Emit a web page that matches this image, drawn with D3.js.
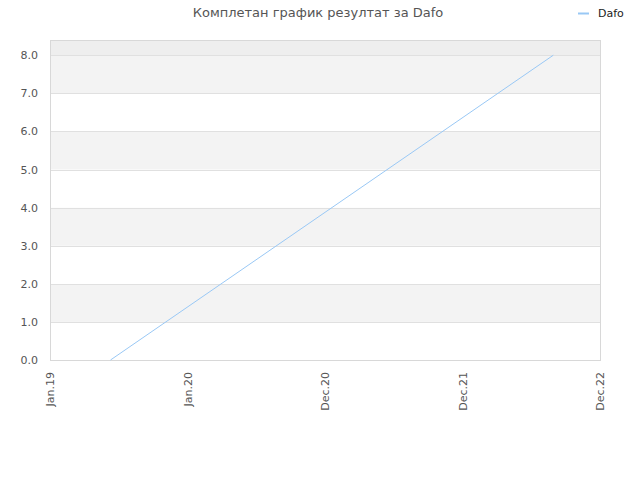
<!DOCTYPE html>
<html>
<head>
<meta charset="utf-8">
<script src="https://cdn.jsdelivr.net/npm/d3@7"></script>
<style>
  body { margin: 0; background: #fff; }
  text { font-family: "DejaVu Sans", sans-serif; }
</style>
</head>
<body>
<div id="chart"></div>
<script>
const title = "Комплетан график резултат за Dafo";
const seriesName = "Dafo";
const tickLabels = ["Jan.19", "Jan.20", "Dec.20", "Dec.21", "Dec.22"];
// x position of each point, in tick-index units
const pointX = [0.44, 3.66];
const pointY = [0, 8];
const yTicks = [0, 1, 2, 3, 4, 5, 6, 7, 8];

const width = 640, height = 480;
const margin = {top: 40, right: 40, bottom: 120, left: 50};

const svg = d3.select("#chart").append("svg")
  .attr("width", width)
  .attr("height", height);

const x = d3.scaleLinear()
  .domain([0, tickLabels.length - 1])
  .range([margin.left, width - margin.right]);

const y = d3.scaleLinear()
  .domain([0, 8.4])
  .range([height - margin.bottom, margin.top]);

// background bands
const bands = d3.range(0, 9).map(i => ({lo: i, hi: Math.min(i + 1, 8.4)}));
svg.append("g")
  .selectAll("rect")
  .data(bands)
  .join("rect")
  .attr("x", margin.left)
  .attr("width", width - margin.right - margin.left)
  .attr("y", d => y(d.hi))
  .attr("height", d => y(d.lo) - y(d.hi))
  .attr("fill", d => d.lo >= 8 ? "#eeeeee" : (d.lo % 2 === 1 ? "#f3f3f3" : "#ffffff"));

// grid lines
svg.append("g")
  .attr("stroke", "#e0e0e0")
  .selectAll("line")
  .data(yTicks)
  .join("line")
  .attr("x1", margin.left)
  .attr("x2", width - margin.right)
  .attr("y1", d => Math.round(y(d)) + 0.5)
  .attr("y2", d => Math.round(y(d)) + 0.5);

// frame
svg.append("rect")
  .attr("x", margin.left + 0.5)
  .attr("y", margin.top + 0.5)
  .attr("width", width - margin.right - margin.left)
  .attr("height", height - margin.bottom - margin.top)
  .attr("fill", "none")
  .attr("stroke", "#d8d8d8");

// y axis
const yAxis = svg.append("g")
  .attr("transform", `translate(${margin.left},0)`)
  .call(d3.axisLeft(y).tickValues(yTicks).tickFormat(d3.format(".1f")).tickSize(0).tickPadding(12));
yAxis.select(".domain").remove();
yAxis.selectAll("text").attr("fill", "#555").style("font-size", "11px");

// x axis
const xAxis = svg.append("g")
  .attr("transform", `translate(0,${height - margin.bottom})`)
  .call(d3.axisBottom(x).tickValues(d3.range(tickLabels.length)).tickFormat(i => tickLabels[i]).tickSize(0));
xAxis.select(".domain").remove();
xAxis.selectAll("text")
  .attr("fill", "#555")
  .style("font-size", "11px")
  .attr("text-anchor", "end")
  .attr("transform", "rotate(-90)")
  .attr("x", -12)
  .attr("y", 0)
  .attr("dy", "0.35em");

// line
const pts = pointX.map((px, i) => [px, pointY[i]]);
svg.append("path")
  .datum(pts)
  .attr("fill", "none")
  .attr("stroke", "#99c8f5")
  .attr("stroke-width", 1)
  .attr("d", d3.line().x(d => x(d[0])).y(d => y(d[1])));

// title
svg.append("text")
  .attr("x", 318)
  .attr("y", 17)
  .attr("text-anchor", "middle")
  .attr("fill", "#555")
  .style("font-size", "13px")
  .text(title);

// legend
svg.append("line")
  .attr("x1", 578).attr("x2", 589)
  .attr("y1", 13.5).attr("y2", 13.5)
  .attr("stroke", "#99c8f5")
  .attr("stroke-width", 2);
svg.append("text")
  .attr("x", 598)
  .attr("y", 17)
  .attr("fill", "#222")
  .style("font-size", "11px")
  .text(seriesName);
</script>
</body>
</html>
